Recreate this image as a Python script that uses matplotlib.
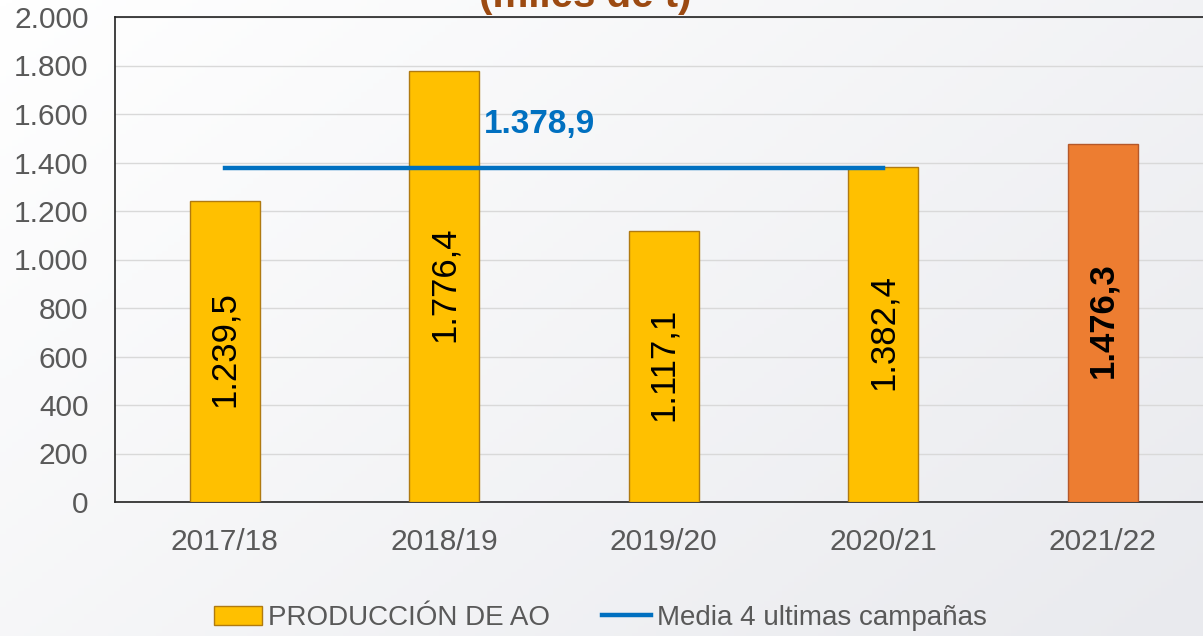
import matplotlib
matplotlib.use("Agg")
import matplotlib.pyplot as plt
import numpy as np
from matplotlib.patches import Patch
from matplotlib.lines import Line2D

campaigns = ["2017/18", "2018/19", "2019/20", "2020/21", "2021/22"]
production = [1239.5, 1776.4, 1117.1, 1382.4, 1476.3]
labels = ["1.239,5", "1.776,4", "1.117,1", "1.382,4", "1.476,3"]
mean_value = 1378.9
mean_label = "1.378,9"
yticks = [0, 200, 400, 600, 800, 1000, 1200, 1400, 1600, 1800, 2000]
ytick_labels = ["0", "200", "400", "600", "800", "1.000", "1.200", "1.400", "1.600", "1.800", "2.000"]

plt.rcParams['font.family'] = ['Liberation Sans', 'DejaVu Sans']

fig = plt.figure(figsize=(12.03, 6.36), dpi=100)

# background gradient
bg = fig.add_axes([0, 0, 1, 1], zorder=-10)
gx, gy = np.meshgrid(np.linspace(0, 1, 200), np.linspace(0, 1, 200))
grad = 0.6 * gx + 0.4 * gy
bg.imshow(grad, cmap=matplotlib.colors.LinearSegmentedColormap.from_list("g", ["#FFFFFF", "#E9EAEE"]),
          aspect='auto', extent=[0, 1, 0, 1], origin='upper')
bg.axis('off')

ax = fig.add_axes([115/1203, 134/636, 1097.5/1203, 485/636])
ax.set_facecolor('none')
x = np.arange(len(campaigns))
colors = ["#FFC000"] * 4 + ["#ED7D31"]
edges = ["#B07A10"] * 4 + ["#B5582A"]
ax.bar(x, production, width=0.32, color=colors, edgecolor=edges, linewidth=1, zorder=3)
ax.plot(x[:4], [mean_value] * 4, color="#0070C0", linewidth=3.2, zorder=4)
ax.text(1.18, 1555, mean_label, color="#0070C0", fontsize=24, fontweight='bold', ha='left', va='center')

for i, (v, lab) in enumerate(zip(production, labels)):
    ax.text(i, v / 2 + 10, lab, rotation=90, ha='center', va='center', fontsize=25,
            fontweight='bold' if i == 4 else 'normal', color='black', zorder=5)

ax.set_xlim(-0.5, 4.5)
ax.set_ylim(0, 2000)
ax.set_yticks(yticks)
ax.set_yticklabels(ytick_labels)
ax.set_xticks(x)
ax.set_xticklabels(campaigns)
ax.tick_params(axis='both', length=0, labelsize=21.5, colors='#595959')
ax.tick_params(axis='y', pad=19)
ax.tick_params(axis='x', pad=19)
ax.grid(axis='y', color='#D9D9D9', linewidth=1, zorder=0)
for s in ['left', 'top', 'bottom']:
    ax.spines[s].set_color('#222222')
    ax.spines[s].set_linewidth(1.2)
ax.spines['right'].set_visible(False)

fig.text(585/1203, 1 - 7/636, "(miles de t)", color="#9C4A12", fontsize=29, fontweight='bold',
         ha='center', va='baseline')

handles = [Patch(facecolor="#FFC000", edgecolor="#B07A10", label="PRODUCCIÓN DE AO"),
           Line2D([0], [0], color="#0070C0", linewidth=3.2, label="Media 4 ultimas campañas")]
fig.legend(handles=handles, loc='center', bbox_to_anchor=(600/1203, 1 - 618/636), ncol=2,
           frameon=False, fontsize=20, labelcolor='#595959', handlelength=1.75, handleheight=0.65,
           handletextpad=0.2, columnspacing=1.9)

fig.savefig("out.png", dpi=100)
